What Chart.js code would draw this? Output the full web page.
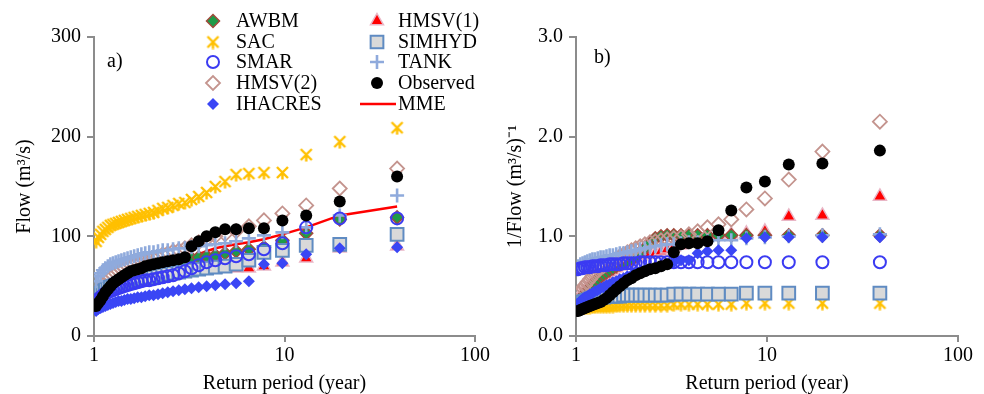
<!DOCTYPE html>
<html>
<head>
<meta charset="utf-8">
<script src="https://cdn.jsdelivr.net/npm/chart.js@4.4.1/dist/chart.umd.min.js"></script>
<style>
html, body { margin: 0; padding: 0; background: #fff; }
#wrap { position: relative; width: 984px; height: 394px; }
.box { position: absolute; top: 0; width: 492px; height: 394px; }
</style>
</head>
<body>
<div id="wrap">
  <div class="box" style="left:0"><canvas id="chartA" width="492" height="394"></canvas></div>
  <div class="box" style="left:492px"><canvas id="chartB" width="492" height="394"></canvas></div>
</div>
<script>
// return periods (years), ascending
const returnPeriods = [1.026, 1.054, 1.083, 1.114, 1.147, 1.182, 1.219, 1.258, 1.3, 1.345,
  1.393, 1.444, 1.5, 1.56, 1.625, 1.696, 1.773, 1.857, 1.95, 2.053,
  2.167, 2.294, 2.438, 2.6, 2.786, 3.0, 3.25, 3.545, 3.9, 4.333,
  4.875, 5.571, 6.5, 7.8, 9.75, 13, 19.5, 39];
const xTicks = [1, 10, 100];

// a) Flow (m3/s)
const flowAWBM = [35, 38, 41, 43, 45, 47, 49, 51, 52, 54, 55, 56, 58, 59, 60, 61, 63, 64, 65, 67,
  68, 70, 71, 73, 74, 76, 78, 79, 80, 81, 83, 85, 87, 89, 96, 103, 117, 119];
const flowSAC = [95, 99, 102, 105, 107, 109, 111, 112, 113, 114, 115, 116, 117, 118, 119, 120, 121, 122, 123, 124,
  126, 128, 129, 131, 133, 134, 137, 140, 144, 150, 155, 162, 163, 164, 164, 182, 195, 209];
const flowSMAR = [34, 37, 39, 41, 43, 44, 45, 46, 47, 48, 49, 50, 51, 52, 53, 54, 55, 56, 56, 57,
  58, 59, 60, 61, 63, 65, 68, 71, 74, 76, 78, 80, 82, 87, 93, 109, 118, 118];
const flowHMSV2 = [42, 45, 48, 51, 54, 57, 59, 61, 63, 65, 67, 68, 70, 71, 72, 74, 75, 76, 77, 79,
  80, 82, 83, 85, 86, 88, 91, 94, 97, 100, 102, 105, 110, 116, 123, 131, 148, 168];
const flowIHACRES = [25, 27, 28, 29, 30, 31, 32, 33, 34, 35, 35, 36, 37, 37, 38, 39, 39, 40, 41, 41,
  42, 43, 44, 45, 46, 47, 48, 49, 50, 51, 52, 53, 55, 72, 73, 82, 88, 89];
const flowHMSV1 = [33, 36, 38, 40, 42, 44, 45, 47, 48, 49, 50, 51, 52, 53, 54, 55, 56, 57, 58, 59,
  60, 61, 62, 63, 64, 65, 66, 66, 67, 67, 68, 68, 68, 70, 74, 78, 88, 90];
const flowSIMHYD = [38, 41, 43, 45, 47, 48, 49, 50, 51, 52, 53, 54, 55, 55, 56, 57, 57, 58, 59, 59,
  60, 61, 62, 63, 64, 65, 66, 67, 68, 69, 70, 72, 76, 84, 86, 91, 92, 102];
const flowTANK = [55, 60, 63, 66, 68, 70, 72, 73, 74, 75, 76, 77, 78, 79, 80, 81, 82, 83, 84, 84,
  85, 86, 86, 87, 88, 88, 89, 90, 91, 92, 93, 95, 98, 101, 104, 109, 121, 141];
const flowObserved = [30, 33, 36, 40, 44, 47, 50, 53, 55, 57, 59, 61, 63, 65, 66, 67, 68, 70, 71, 72,
  73, 74, 75, 76, 77, 79, 90, 95, 100, 104, 107, 107, 108, 108, 116, 121, 135, 160];
const flowMME = [38, 41, 44, 46, 48, 50, 52, 53, 55, 56, 57, 58, 59, 60, 61, 62, 63, 64, 65, 66,
  68, 69, 70, 72, 74, 76, 79, 82, 85, 88, 90, 92, 94, 97, 102, 109, 121, 130];

// b) 1/Flow
const invAWBM = [0.33, 0.36, 0.39, 0.42, 0.45, 0.48, 0.51, 0.54, 0.57, 0.60, 0.62, 0.64, 0.66, 0.68, 0.70, 0.72, 0.74, 0.76, 0.78, 0.80,
  0.84, 0.88, 0.93, 0.98, 1.00, 1.01, 1.01, 1.01, 1.01, 1.01, 1.01, 1.01, 1.01, 1.01, 1.01, 1.01, 1.01, 1.01];
const invSAC = [0.28, 0.28, 0.29, 0.29, 0.29, 0.29, 0.30, 0.30, 0.30, 0.30, 0.30, 0.30, 0.30, 0.30, 0.31, 0.31, 0.31, 0.31, 0.31, 0.31,
  0.31, 0.31, 0.31, 0.31, 0.31, 0.31, 0.32, 0.32, 0.32, 0.32, 0.32, 0.32, 0.32, 0.33, 0.33, 0.33, 0.33, 0.33];
const invSMAR = [0.67, 0.68, 0.68, 0.69, 0.69, 0.69, 0.70, 0.70, 0.70, 0.71, 0.71, 0.71, 0.72, 0.72, 0.72, 0.72, 0.73, 0.73, 0.73, 0.73,
  0.74, 0.74, 0.74, 0.74, 0.74, 0.74, 0.74, 0.74, 0.74, 0.74, 0.74, 0.74, 0.74, 0.74, 0.74, 0.74, 0.74, 0.74];
const invHMSV2 = [0.42, 0.45, 0.48, 0.51, 0.54, 0.57, 0.60, 0.63, 0.66, 0.68, 0.70, 0.72, 0.74, 0.76, 0.78, 0.80, 0.82, 0.84, 0.86, 0.88,
  0.90, 0.92, 0.94, 0.95, 0.96, 0.97, 0.98, 0.99, 1.02, 1.05, 1.09, 1.12, 1.17, 1.27, 1.38, 1.57, 1.85, 2.15];
const invIHACRES = [0.33, 0.35, 0.37, 0.39, 0.40, 0.42, 0.43, 0.45, 0.46, 0.48, 0.49, 0.51, 0.52, 0.54, 0.55, 0.57, 0.58, 0.60, 0.61, 0.63,
  0.64, 0.66, 0.67, 0.68, 0.70, 0.72, 0.74, 0.76, 0.76, 0.83, 0.85, 0.86, 0.86, 0.98, 0.99, 0.99, 0.99, 0.99];
const invHMSV1 = [0.38, 0.41, 0.44, 0.46, 0.48, 0.50, 0.52, 0.54, 0.56, 0.58, 0.60, 0.62, 0.64, 0.66, 0.68, 0.70, 0.72, 0.74, 0.76, 0.78,
  0.80, 0.81, 0.82, 0.83, 0.85, 0.87, 0.89, 0.91, 0.94, 0.97, 1.00, 1.01, 1.02, 1.03, 1.05, 1.20, 1.21, 1.40];
const invSIMHYD = [0.30, 0.32, 0.34, 0.35, 0.36, 0.37, 0.38, 0.38, 0.39, 0.39, 0.39, 0.40, 0.40, 0.40, 0.40, 0.40, 0.41, 0.41, 0.41, 0.41,
  0.41, 0.41, 0.41, 0.41, 0.41, 0.41, 0.42, 0.42, 0.42, 0.42, 0.42, 0.42, 0.42, 0.43, 0.43, 0.43, 0.43, 0.43];
const invTANK = [0.70, 0.72, 0.73, 0.74, 0.75, 0.76, 0.77, 0.77, 0.78, 0.79, 0.79, 0.80, 0.81, 0.81, 0.82, 0.83, 0.83, 0.84, 0.85, 0.86,
  0.87, 0.88, 0.89, 0.90, 0.91, 0.92, 0.92, 0.93, 0.94, 0.94, 0.95, 0.96, 0.96, 0.98, 0.99, 1.00, 1.01, 1.02];
const invObserved = [0.25, 0.26, 0.27, 0.28, 0.29, 0.30, 0.31, 0.32, 0.33, 0.34, 0.36, 0.38, 0.41, 0.44, 0.47, 0.50, 0.53, 0.56, 0.58, 0.61,
  0.63, 0.65, 0.67, 0.68, 0.70, 0.72, 0.84, 0.92, 0.93, 0.93, 0.95, 1.06, 1.26, 1.49, 1.55, 1.72, 1.73, 1.86];

const serif = "'Liberation Serif', 'Times New Roman', serif";
const axisGrey = '#8c8c8c';

// SAC marker: asterisk drawn on a small canvas
function makeStar(color) {
  const c = document.createElement('canvas');
  c.width = 15; c.height = 15;
  const g = c.getContext('2d');
  g.strokeStyle = color;
  g.lineWidth = 2.4;
  g.beginPath();
  g.moveTo(2, 2); g.lineTo(13, 13);
  g.moveTo(13, 2); g.lineTo(2, 13);
  g.moveTo(7.5, 7.5); g.lineTo(7.5, 14.5);
  g.stroke();
  return c;
}
const sacStar = makeStar('#FFC000');

const styles = {
  'AWBM':     {pointStyle: 'rectRot', radius: 6.5, bg: '#1E9B48', border: '#A04A3C', bw: 1.5, order: 7},
  'SAC':      {pointStyle: sacStar, radius: 7, bg: '#FFC000', border: '#FFC000', bw: 0, order: 8},
  'SMAR':     {pointStyle: 'circle', radius: 6, bg: 'rgba(0,0,0,0)', border: '#3B3BF2', bw: 2, order: 3},
  'HMSV(2)':  {pointStyle: 'rectRot', radius: 7, bg: 'rgba(0,0,0,0)', border: '#C4948E', bw: 1.8, order: 6},
  'IHACRES':  {pointStyle: 'rectRot', radius: 6, bg: '#3A46F5', border: '#3A46F5', bw: 0, order: 2},
  'HMSV(1)':  {pointStyle: 'triangle', radius: 7.5, bg: '#FF0000', border: '#E9B6C6', bw: 1.5, order: 9},
  'SIMHYD':   {pointStyle: 'rect', radius: 9, bg: '#D9D9D9', border: '#5F8BC2', bw: 2, order: 5},
  'TANK':     {pointStyle: 'cross', radius: 7, bg: '#8FAADC', border: '#8FAADC', bw: 2.6, order: 4},
  'Observed': {pointStyle: 'circle', radius: 6, bg: '#000000', border: '#000000', bw: 0, order: 1}
};

function pts(values) {
  return returnPeriods.map((t, i) => ({x: t, y: values[i]}));
}

function scatterSet(name, values) {
  const s = styles[name];
  return {
    label: name, data: pts(values), order: s.order,
    pointStyle: s.pointStyle, pointRadius: s.radius, pointHoverRadius: s.radius,
    backgroundColor: s.bg, borderColor: s.border, pointBorderWidth: s.bw, borderWidth: s.bw,
    showLine: false
  };
}

function makeScales(yMax, yStep, yTitle, yWidth, titlePad, digits) {
  return {
    x: {
      type: 'logarithmic', min: 1, max: 100,
      afterBuildTicks: s => { s.ticks = xTicks.map(v => ({value: v})); },
      afterFit: s => { s.height = 58; },
      ticks: {color: '#000', font: {family: serif, size: 20}, padding: 2, maxRotation: 0, autoSkip: false,
        callback: v => String(v)},
      grid: {display: true, drawOnChartArea: false, drawTicks: true, tickLength: 6, color: axisGrey, lineWidth: 2},
      border: {display: true, color: axisGrey, width: 2},
      title: {display: true, text: 'Return period (year)', color: '#000',
        font: {family: serif, size: 20, lineHeight: 1.0}, padding: {top: 0, bottom: 0}}
    },
    y: {
      min: 0, max: yMax,
      afterBuildTicks: s => {
        const t = [];
        for (let v = 0; v <= yMax + 1e-9; v += yStep) t.push({value: v});
        s.ticks = t;
      },
      afterFit: s => { s.width = yWidth; },
      ticks: {color: '#000', font: {family: serif, size: 20}, padding: 6,
        callback: v => Number(v).toFixed(digits)},
      grid: {display: true, drawOnChartArea: false, drawTicks: true, tickLength: 7, color: axisGrey, lineWidth: 2},
      border: {display: true, color: axisGrey, width: 2},
      title: {display: true, text: yTitle, color: '#000', font: {family: serif, size: 20},
        padding: {top: titlePad, bottom: 6}}
    }
  };
}

function panelLabel(text, x, y) {
  return {
    id: 'panelLabel',
    afterDraw(chart) {
      const ctx = chart.ctx;
      ctx.save();
      ctx.font = '20px ' + serif;
      ctx.fillStyle = '#000';
      ctx.textBaseline = 'middle';
      ctx.fillText(text, x, y);
      ctx.restore();
    }
  };
}

const legendCols = [
  {x: 213, textX: 236, names: ['AWBM', 'SAC', 'SMAR', 'HMSV(2)', 'IHACRES']},
  {x: 377, textX: 398, names: ['HMSV(1)', 'SIMHYD', 'TANK', 'Observed', 'MME']}
];
const legendRows = [21, 42, 62, 83, 104];

const legendPlugin = {
  id: 'innerLegend',
  afterDraw(chart) {
    const ctx = chart.ctx;
    ctx.save();
    ctx.font = '20px ' + serif;
    ctx.textBaseline = 'middle';
    legendCols.forEach(col => {
      col.names.forEach((name, r) => {
        const y = legendRows[r];
        if (name === 'MME') {
          ctx.strokeStyle = '#FF0000';
          ctx.lineWidth = 2.5;
          ctx.beginPath();
          ctx.moveTo(360, y);
          ctx.lineTo(396, y);
          ctx.stroke();
        } else {
          const s = styles[name];
          ctx.fillStyle = s.bg;
          ctx.strokeStyle = s.border;
          ctx.lineWidth = s.bw;
          Chart.helpers.drawPoint(ctx, {pointStyle: s.pointStyle, radius: s.radius, rotation: 0, borderWidth: s.bw}, col.x, y);
        }
        ctx.fillStyle = '#000';
        ctx.fillText(name, col.textX, y + 1);
      });
    });
    ctx.restore();
  }
};

const common = {
  responsive: false, animation: false, devicePixelRatio: 1,
  plugins: {legend: {display: false}, tooltip: {enabled: false}}
};

new Chart(document.getElementById('chartA'), {
  type: 'scatter',
  data: {
    datasets: [
      scatterSet('AWBM', flowAWBM),
      scatterSet('SAC', flowSAC),
      scatterSet('SMAR', flowSMAR),
      scatterSet('HMSV(2)', flowHMSV2),
      scatterSet('IHACRES', flowIHACRES),
      scatterSet('HMSV(1)', flowHMSV1),
      scatterSet('SIMHYD', flowSIMHYD),
      scatterSet('TANK', flowTANK),
      scatterSet('Observed', flowObserved),
      {label: 'MME', data: pts(flowMME), order: 10, showLine: true, pointRadius: 0,
        borderColor: '#FF0000', borderWidth: 2.5, backgroundColor: '#FF0000', tension: 0}
    ]
  },
  options: Object.assign({}, common, {
    layout: {padding: {top: 37, right: 15, left: 0, bottom: 0}},
    scales: makeScales(300, 100, 'Flow (m³/s)', 94, 13, 0)
  }),
  plugins: [panelLabel('a)', 107, 62), legendPlugin]
});

new Chart(document.getElementById('chartB'), {
  type: 'scatter',
  data: {
    datasets: [
      scatterSet('AWBM', invAWBM),
      scatterSet('SAC', invSAC),
      scatterSet('SMAR', invSMAR),
      scatterSet('HMSV(2)', invHMSV2),
      scatterSet('IHACRES', invIHACRES),
      scatterSet('HMSV(1)', invHMSV1),
      scatterSet('SIMHYD', invSIMHYD),
      scatterSet('TANK', invTANK),
      scatterSet('Observed', invObserved)
    ]
  },
  options: Object.assign({}, common, {
    layout: {padding: {top: 37, right: 26, left: 0, bottom: 0}},
    scales: makeScales(3, 1, '1/Flow (m³/s)⁻¹', 84, 12, 1)
  }),
  plugins: [panelLabel('b)', 102, 58)]
});
</script>
</body>
</html>
